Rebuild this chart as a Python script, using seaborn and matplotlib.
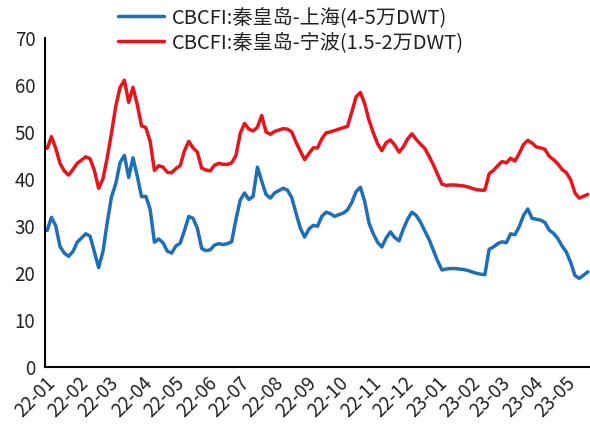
import pandas as pd
import numpy as np
import matplotlib
matplotlib.use("Agg")
import matplotlib.pyplot as plt
import matplotlib.dates as mdates
import seaborn as sns

# ---------- DATA (one point every 4 days) ----------
START = "2022-01-03"
STEP = "4D"

SH_LABEL = "CBCFI:秦皇岛-上海(4-5万DWT)"
NB_LABEL = "CBCFI:秦皇岛-宁波(1.5-2万DWT)"

shanghai = [
    29.0, 31.8, 30.0, 25.6, 24.2, 23.5, 24.5, 26.5, 27.4, 28.3,
    27.8, 24.5, 21.1, 24.5, 30.7, 36.2, 39.0, 43.5, 45.0, 40.3,
    44.5, 40.6, 36.2, 36.3, 33.5, 26.5, 27.2, 26.4, 24.6, 24.2,
    25.7, 26.3, 29.0, 32.0, 31.6, 29.5, 25.2, 24.7, 24.9, 25.9,
    26.2, 26.0, 26.2, 26.6, 31.4, 35.5, 37.0, 35.6, 36.3, 42.5,
    39.5, 36.7, 35.9, 37.0, 37.5, 38.0, 37.6, 36.0, 32.7, 29.5,
    27.6, 29.3, 30.1, 29.9, 32.0, 32.9, 32.6, 32.0, 32.4, 32.7,
    33.4, 35.0, 37.3, 38.2, 35.2, 30.6, 28.3, 26.5, 25.5, 27.4,
    28.7, 27.5, 26.8, 29.3, 31.4, 32.9, 32.2, 30.8, 28.9, 27.1,
    24.8, 22.5, 20.6, 20.8, 20.9, 20.9, 20.8, 20.7, 20.5, 20.2,
    19.9, 19.7, 19.6, 25.0, 25.5, 26.2, 26.6, 26.4, 28.3, 28.1,
    29.8, 32.2, 33.6, 31.6, 31.4, 31.2, 30.7, 29.1, 28.4, 27.3,
    25.7, 24.4, 22.2, 19.4, 18.8, 19.5, 20.2,
]

ningbo = [
    46.5, 49.0, 46.5, 43.3, 41.7, 40.8, 42.0, 43.3, 44.0, 44.7,
    44.3, 41.8, 38.0, 40.0, 44.5, 49.8, 55.5, 59.5, 61.0, 56.3,
    59.5, 55.8, 51.3, 50.9, 48.0, 41.8, 42.8, 42.5, 41.4, 41.3,
    42.2, 42.8, 46.0, 48.0, 46.6, 45.7, 42.3, 41.9, 41.7, 42.9,
    43.3, 43.1, 43.1, 43.4, 45.0, 49.7, 51.8, 50.6, 50.2, 51.0,
    53.5, 50.0, 49.5, 50.1, 50.4, 50.7, 50.6, 50.0, 47.8, 45.9,
    44.1, 45.4, 46.6, 46.6, 48.5, 49.8, 50.0, 50.3, 50.6, 50.9,
    51.2, 54.3, 57.5, 58.4, 56.0, 52.5, 49.8, 47.5, 46.0, 47.7,
    48.3, 47.2, 45.7, 46.8, 48.5, 49.6, 48.4, 47.4, 46.5, 44.8,
    43.0, 40.9, 38.9, 38.6, 38.7, 38.7, 38.6, 38.5, 38.3, 38.0,
    37.7, 37.6, 37.6, 41.1, 41.8, 42.8, 43.7, 43.4, 44.4, 43.8,
    45.4, 47.3, 48.2, 47.6, 46.8, 46.6, 46.3, 44.8, 44.1, 43.2,
    42.0, 41.3, 39.8, 37.0, 35.9, 36.3, 36.7,
]

dates = pd.date_range(START, periods=len(shanghai), freq=STEP)

df = pd.concat([
    pd.DataFrame({"date": dates, "value": shanghai, "series": SH_LABEL}),
    pd.DataFrame({"date": dates, "value": ningbo, "series": NB_LABEL}),
])

# ---------- STYLE ----------
sns.set_theme(style="white")
plt.rcParams["font.family"] = ["Noto Sans CJK SC", "DejaVu Sans"]

fig = plt.figure(figsize=(5.9, 4.4), dpi=100)
ax = fig.add_axes([45 / 590, 1 - 366.7 / 440, 1 - 45 / 590, (366.7 - 38) / 440])

sns.lineplot(data=df, x="date", y="value", hue="series",
             hue_order=[SH_LABEL, NB_LABEL],
             palette=["#1f6fb6", "#e8141b"], linewidth=2.5, ax=ax)

ax.set_ylim(0, 70)
ax.set_yticks(range(0, 71, 10))
ax.set_xlim(pd.Timestamp("2022-01-01"), pd.Timestamp("2023-05-24"))
ax.xaxis.set_major_locator(mdates.MonthLocator())
ax.xaxis.set_major_formatter(mdates.DateFormatter("%y-%m"))
ax.set_xlabel("")
ax.set_ylabel("")

for side in ["top", "right"]:
    ax.spines[side].set_visible(False)
for side in ["left", "bottom"]:
    ax.spines[side].set_color("black")
    ax.spines[side].set_linewidth(1.5)

ax.tick_params(axis="both", direction="in", length=6, width=1.3,
               colors="black", labelcolor="#222222", labelsize=13.5)
ax.tick_params(axis="y", pad=7)
ax.tick_params(axis="x", pad=4)
plt.setp(ax.get_xticklabels(), rotation=45, ha="right", rotation_mode="anchor")

handles, labels = ax.get_legend_handles_labels()
ax.get_legend().remove()
fig.legend(handles, labels, loc="upper left", bbox_to_anchor=(100 / 590, 1.025),
           frameon=False, fontsize=14.5, handlelength=2.3, handletextpad=0.35,
           labelspacing=0.2, labelcolor="#222222")

fig.savefig("out.png", dpi=100)
